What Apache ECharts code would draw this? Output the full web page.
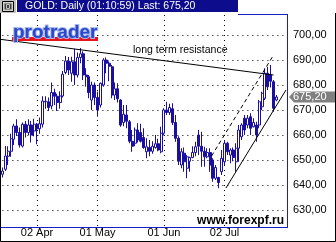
<!DOCTYPE html>
<html><head><meta charset="utf-8">
<script src="https://cdn.jsdelivr.net/npm/echarts@6/dist/echarts.min.js"></script>
<style>html,body{margin:0;padding:0;background:#fff;overflow:hidden}#c{width:336px;height:242px}</style>
</head><body><div id="c"></div>
<script>
// ---- data ----
const dates = [
 '15 Mar','16 Mar','19 Mar','20 Mar','21 Mar','22 Mar','23 Mar','26 Mar','27 Mar','28 Mar','29 Mar','30 Mar',
 '02 Apr','03 Apr','04 Apr','05 Apr','06 Apr','09 Apr','10 Apr','11 Apr','12 Apr','13 Apr','16 Apr','17 Apr','18 Apr','19 Apr','20 Apr','23 Apr','24 Apr','25 Apr','26 Apr','27 Apr','30 Apr',
 '01 May','02 May','03 May','04 May','07 May','08 May','09 May','10 May','11 May','14 May','15 May','16 May','17 May','18 May','21 May','22 May','23 May','24 May','25 May','28 May','29 May','30 May','31 May',
 '01 Jun','04 Jun','05 Jun','06 Jun','07 Jun','08 Jun','11 Jun','12 Jun','13 Jun','14 Jun','15 Jun','18 Jun','19 Jun','20 Jun','21 Jun','22 Jun','25 Jun','26 Jun','27 Jun','28 Jun','29 Jun',
 '02 Jul','03 Jul','04 Jul','05 Jul','06 Jul','09 Jul','10 Jul','11 Jul','12 Jul','13 Jul','16 Jul','17 Jul','18 Jul','19 Jul','20 Jul','23 Jul','24 Jul','25 Jul','26 Jul',
 '27 Jul','30 Jul','31 Jul','01 Aug'
];
const tickLabels = ['02 Apr','01 May','01 Jun','02 Jul'];
const opens = [
 644.3,646.3,651.5,653.5,658.3,663.6,661.0,655.6,664.3,661.0,664.0,661.6,
 664.3,662.5,664.3,673.5,673.3,671.6,677.0,675.5,673.0,675.6,685.0,689.6,684.7,689.3,684.0,691.0,692.5,684.0,683.3,674.0,680.0,
 675.0,672.0,680.0,690.0,688.7,687.3,676.0,678.5,674.0,665.0,668.0,665.3,657.5,656.7,662.0,661.0,659.0,653.3,655.0,653.5,655.0,656.5,653.3,
 660.7,670.0,669.0,670.5,665.0,658.7,648.0,652.7,646.7,649.5,651.0,653.0,660.0,655.5,653.5,651.3,653.0,650.0,642.7,643.0,645.3,
 649.3,656.7,652.0,654.0,649.3,654.7,659.3,666.7,664.0,667.3,663.3,664.0,664.0,671.3,674.7,684.7,684.0,681.3,674.0
];
const closes = [
 645.6,651.6,653.5,658.5,663.6,661.0,656.0,664.3,661.0,664.0,660.0,664.3,
 662.5,664.5,673.6,673.3,671.0,677.0,675.5,673.0,675.6,684.3,689.6,686.0,689.3,684.0,691.0,692.5,684.0,683.3,677.0,680.0,675.0,
 670.0,680.7,690.0,688.7,687.5,676.0,678.5,674.5,664.0,668.3,665.5,657.5,655.5,662.0,658.0,657.5,655.0,655.3,653.5,655.5,656.5,654.0,660.7,
 670.0,669.0,671.0,665.0,658.7,649.5,653.3,649.3,651.3,651.0,653.0,655.3,655.5,653.5,651.3,653.0,648.0,642.7,647.0,641.0,650.7,
 656.7,653.3,654.0,651.0,654.7,662.0,664.0,662.0,666.7,662.7,665.0,660.0,673.3,676.7,684.7,679.3,681.5,670.7,675.2
];
const lows = [
 643.0,645.6,648.0,651.3,656.0,659.6,655.0,655.0,659.0,660.0,657.0,659.5,
 656.3,660.5,663.0,670.5,669.6,670.3,672.0,669.6,670.5,675.0,684.3,684.0,681.3,680.0,683.0,688.7,682.0,679.3,674.7,670.0,672.0,
 667.3,671.0,679.3,684.7,681.5,674.7,674.0,673.0,663.3,663.5,662.7,656.7,653.3,655.5,657.0,657.0,654.5,650.7,651.5,652.5,654.5,653.5,652.7,
 660.0,668.0,668.0,664.0,657.3,648.0,646.7,645.3,642.7,645.3,650.7,651.5,652.0,647.3,647.3,650.7,645.3,641.3,642.0,638.7,644.0,
 648.0,652.0,648.7,649.5,645.3,649.3,658.0,660.0,662.7,660.0,663.0,657.3,662.7,670.0,674.0,678.0,679.0,669.3,673.5
];
const highs = [
 647.0,655.6,655.5,660.5,664.5,666.3,663.0,665.0,665.6,666.3,665.6,666.5,
 664.8,667.0,675.5,675.5,675.0,681.0,678.5,676.5,677.5,685.6,691.6,691.2,691.3,694.5,693.0,694.8,693.5,686.7,684.0,681.3,681.0,
 677.3,681.0,690.7,691.0,689.5,688.0,681.0,680.7,674.3,672.0,672.0,666.0,662.0,663.0,664.7,664.5,662.7,658.7,658.0,657.5,660.0,658.5,663.3,
 670.7,673.3,672.5,672.7,668.0,659.5,654.7,655.0,652.0,651.3,655.5,657.3,662.0,661.3,655.3,654.7,654.7,650.7,648.0,643.3,654.0,
 658.0,657.3,654.7,655.0,656.7,664.0,664.7,668.0,668.0,668.7,666.7,665.3,674.0,677.3,686.7,687.3,688.0,682.0,676.0
];
const lastPrice = 675.20;
const titleText = 'GOLD: Daily (01:10:59) Last: 675,20';
const noteText = 'long term resistance';
const watermark = 'www.forexpf.ru';
const logoText = 'protrader';
// trend lines: [bar index, price]
const resistanceLine = [[-0.83, 698.3], [94.0, 684.0]];
const channelLower = [[77.5, 638.8], [98.3, 678.0]];
const channelUpper = [[72.5, 651.6], [94.0, 692.0]];

// ---- chart ----
const ohlc = opens.map((o, i) => [o, closes[i], lows[i], highs[i]]);
const FONT = "'Liberation Sans', Arial, sans-serif";
const BLUE = '#1a0f9e';
const FRAME = '#1c1cc4';
const fmt = v => v.toFixed(2).replace('.', ',');
const chart = echarts.init(document.getElementById('c'), null, {renderer: 'canvas'});
chart.setOption({
  animation: false,
  backgroundColor: '#fff',
  grid: {left: 2.38, right: 48, top: 15, bottom: 15},
  xAxis: [{
    type: 'category', data: dates, boundaryGap: false,
    axisLine: {show: false}, axisTick: {show: false},
    axisLabel: {interval: (i, v) => tickLabels.includes(v), color: '#000', fontSize: 11, fontFamily: FONT, margin: 0},
    splitLine: {show: true, interval: (i, v) => tickLabels.includes(v), lineStyle: {color: '#000', type: [1, 4], width: 1}}
  }, {
    type: 'value', min: 0, max: dates.length - 1, show: false
  }],
  yAxis: {
    type: 'value', position: 'right', min: 623.2, max: 708, splitNumber: 8,
    axisLine: {show: false}, axisTick: {show: false},
    axisLabel: {color: '#000', fontSize: 11, fontFamily: FONT, margin: 5, showMinLabel: false, showMaxLabel: false,
      formatter: v => Math.abs(v / 10 - Math.round(v / 10)) < 1e-6 ? fmt(v) : ''},
    splitLine: {show: true, showMinLine: false, showMaxLine: false, lineStyle: {color: '#000', type: [1, 4], width: 1}}
  },
  series: [{
    type: 'candlestick', data: ohlc, barWidth: 2.5, clip: false,
    itemStyle: {color: '#fff', color0: BLUE, borderColor: BLUE, borderColor0: BLUE, borderColorDoji: BLUE, borderWidth: 1}
  }, {
    type: 'line', xAxisIndex: 1, data: resistanceLine, symbol: 'none', clip: false, silent: true,
    lineStyle: {color: '#000', width: 1}
  }, {
    type: 'line', xAxisIndex: 1, data: channelLower, symbol: 'none', clip: false, silent: true,
    lineStyle: {color: '#000', width: 1}
  }, {
    type: 'line', xAxisIndex: 1, data: channelUpper, symbol: 'none', clip: false, silent: true,
    lineStyle: {color: '#000', width: 1, type: [4, 3]}
  }]
});
const py = chart.convertToPixel({yAxisIndex: 0}, lastPrice);
chart.setOption({
  graphic: [
    // frame
    {type: 'line', z: 100, shape: {x1: 0, y1: 227.5, x2: 288, y2: 227.5}, style: {stroke: FRAME, lineWidth: 1}},
    {type: 'line', z: 100, shape: {x1: 287.5, y1: 14.5, x2: 287.5, y2: 227.5}, style: {stroke: FRAME, lineWidth: 1}},
    {type: 'line', z: 100, shape: {x1: 238, y1: 14.5, x2: 288, y2: 14.5}, style: {stroke: FRAME, lineWidth: 1}},
    {type: 'polyline', z: 100, shape: {points: [[0.5, 13], [0.5, 241.5], [335.5, 241.5], [335.5, 13]]}, style: {stroke: '#000', fill: null, lineWidth: 1}},
    // title bar
    {type: 'rect', z: 100, shape: {x: 0, y: 0, width: 16, height: 13}, style: {fill: '#c0c0c0'}},
    {type: 'rect', z: 101, shape: {x: 2.5, y: 1.5, width: 11, height: 10}, style: {fill: '#d4d0c8', stroke: '#000'}},
    {type: 'rect', z: 102, shape: {x: 4.5, y: 3.5, width: 7, height: 6}, style: {fill: '#404040', stroke: null}},
    {type: 'rect', z: 103, shape: {x: 6.5, y: 4.5, width: 3, height: 4}, style: {fill: null, stroke: '#c0c0c0'}},
    {type: 'rect', z: 100, shape: {x: 17, y: 0, width: 221, height: 12}, style: {fill: '#0c0c8c'}},
    {type: 'text', z: 101, style: {text: titleText, x: 25, y: 6.5, fill: '#fff', font: '10.5px ' + FONT, verticalAlign: 'middle'}},
    // logo
    {type: 'rect', z: 100, shape: {x: 12, y: 37, width: 86, height: 4}, style: {fill: '#e8141c'}},
    {type: 'text', z: 101, style: {text: logoText, x: 13, y: 32.5, fill: '#2a48c8', stroke: '#a8b8f0', lineWidth: 2, font: 'bold 19px ' + FONT, verticalAlign: 'middle'}},
    // annotation
    {type: 'text', z: 100, style: {text: noteText, x: 133, y: 50, fill: '#000', font: '10.5px ' + FONT, verticalAlign: 'middle'}},
    // watermark
    {type: 'text', z: 100, style: {text: watermark, x: 284, y: 221, fill: '#000', font: 'bold 12px ' + FONT, align: 'right', verticalAlign: 'middle'}},
    // last price label
    {type: 'polygon', z: 100, shape: {points: [[289, py], [294, py - 5.5], [335, py - 5.5], [335, py + 5.5], [294, py + 5.5]]}, style: {fill: '#808080'}},
    {type: 'text', z: 101, style: {text: fmt(lastPrice), x: 293, y: py, fill: '#fff', font: '11px ' + FONT, verticalAlign: 'middle'}}
  ]
});
</script></body></html>
